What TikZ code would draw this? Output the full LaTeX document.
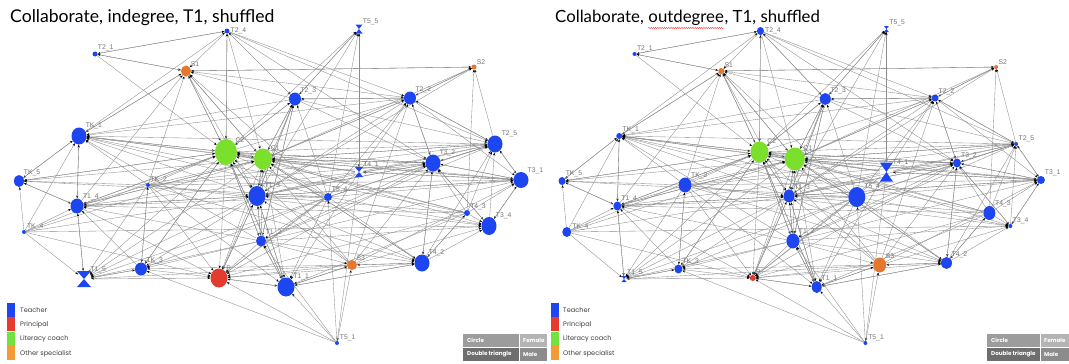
\documentclass[tikz,border=0pt]{standalone}
\usepackage{fontspec}
\setmainfont{Lato}
\newfontfamily\lblfont{Liberation Sans}
\newfontfamily\legfont{Poppins}
\usetikzlibrary{arrows.meta,shapes.geometric,decorations.pathmorphing}
\definecolor{tblue}{HTML}{1E46F0}
\definecolor{cgreen}{HTML}{7BE02C}
\definecolor{sorange}{HTML}{E5782C}
\definecolor{pred}{HTML}{E33B2F}
\definecolor{lorange}{HTML}{F39C33}
\definecolor{lgreen}{HTML}{72E23E}
\definecolor{lred}{HTML}{E8382F}
\definecolor{lblue}{HTML}{1F45F2}
\definecolor{rowa}{HTML}{9C9C9C}
\definecolor{rowab}{HTML}{B4B4B4}
\definecolor{rowb}{HTML}{6E6E6E}
\definecolor{rowbb}{HTML}{8C8C8C}
\pgfdeclarelayer{bg}
\pgfsetlayers{bg,main}
\tikzset{
  lnk/.style={draw=black!45, line width=0.35pt, -{Stealth[length=2.8pt,width=2.2pt,black]}},
  nd/.style={ellipse, inner sep=0pt, draw=none},
  lbl/.style={font=\lblfont\fontsize{6.8}{7}\selectfont, text=black!55, inner sep=0.8pt},
  ttl/.style={anchor=base west, inner sep=0},
  legtxt/.style={font=\legfont\fontsize{6.6}{7}\selectfont, text=black!75, anchor=west, inner sep=0},
  tbl/.style={font=\legfont\bfseries\fontsize{5.6}{6}\selectfont, text=white, anchor=west, inner sep=0},
}
\def\nodelist{%
T24/227/31/{T2\_4}/tblue/5/5/7/8/0,%
T21/95/54/{T2\_1}/tblue/5/5/4/4/45,%
S1/186/71/{S1}/sorange/10/11/6/6/45,%
T55/359/29/{T5\_5}/none/7/9/5/6/45,%
S2/474/67/{S2}/sorange/5/5/4/4/45,%
T23/295/99/{T2\_3}/tblue/12/13/11/12/45,%
T22/410/98/{T2\_2}/tblue/12/13/7/7/45,%
TK1/79/136/{TK\_1}/tblue/15/17/6/6/45,%
C2/226/152/{C2}/cgreen/22/26/18/21/45,%
C1/263/159/{C1}/cgreen/18/21/20/23/45,%
T25/495/144/{T2\_5}/tblue/15/17/4/4/45,%
T32/433/163/{T3\_2}/tblue/15/17/8/9/45,%
T41/359/172/{T4\_1}/none/8/10/13/19/45,%
T31/521/180/{T3\_1}/tblue/15/16/8/8/45,%
TK5/19/181/{TK\_5}/tblue/10/12/7/8/45,%
TK2/148/185/{TK\_2}/tblue/4/4/13/15/45,%
T13/257/196/{T1\_3}/tblue/17/20/11/13/45,%
T54/328/197/{T5\_4}/tblue/8/8/17/20/45,%
T43/467/213/{T4\_3}/tblue/6/6/12/14/45,%
T14/77/206/{T1\_4}/tblue/13/15/8/9/45,%
T34/489/226/{T3\_4}/tblue/15/18/4/4/45,%
TK4/24/232/{TK\_4}/tblue/4/4/9/10/20,%
T12/261/241/{T1\_2}/tblue/10/11/13/15/45,%
T42/422/263/{T4\_2}/tblue/15/17/11/12/45,%
S3/352/265/{S3}/sorange/10/10/13/15/45,%
TK3/141/269/{TK\_3}/tblue/12/13/8/9/45,%
T15/84/279/{T1\_5}/none/14/16/5/6/45,%
P/219/278/{P}/pred/17/19/6/6/45,%
T11/286/287/{T1\_1}/tblue/17/19/10/12/45,%
T51/337/343/{T5\_1}/tblue/4/4/4/4/30}
\def\edgelist{%
T24/{T21,S1,C2,T23,T22,T25,T32,C1},%
T21/{T24,S1,C2},%
S1/{T21,C2,TK1,C1,T13,T22,S2},%
T55/{T23,T41},%
S2/{T22,S1},%
T23/{C2,C1,T13,TK1,T22,T25,S1,T55,T24,P,T32,T12},%
T22/{S2,T23,T25,C1,T32,T31,T13,TK1},%
TK1/{S1,T24,C2,TK5,T14},%
C2/{C1,T13,P,T11,TK1,T23,T22,T32,T25,T31,T14,TK5,TK3,T15,S1,T55,T24,T12},%
C1/{C2,T13,T11,P,TK1,T23,T22,T25,T32,T31,T34,T42,T14,TK5,S1,S2,T15},%
T25/{T31,T22,S2,T32,C1,TK1},%
T32/{T25,T31,C1,C2,T13,T22,P,T42,T34},%
T41/{T32,C1,C2,T13,T55,P,T11,T31,T25,T22,T51,TK1,T14},%
T31/{T25,T32,C1,T13,T41,T34},%
TK5/{TK1,T14,C2},%
TK2/{TK1,TK5,T14,C2,C1,T13,P,T32,T25,T31,T34,T42,TK3,T11,S1,T15},%
T13/{C2,C1,P,T11,T12,TK1,T23,T32,T31,T42,T15,TK3,T55,S2,T25,T14},%
T54/{C2,C1,T13,TK1,T23,T22,T25,T32,T31,T34,P,T11,T42,T14,TK5,T15,S1,T55,TK3,T12},%
T43/{T34,T31,T25,C1,C2,T13,P,T42,T11,TK1,T32,S2,T14},%
T14/{TK1,TK5,C2,T15,P,T13,S1,C1},%
T34/{T31,T32,T25},%
TK4/{TK5,T14,T15,C2,C1,T34,TK1,T13,P},%
T12/{C2,C1,T13,T11,P,TK1,T23,T32,T34,T25,T14,T15,TK3,T42,S3,T31},%
T42/{P,S3,T11,T34,T43,C1,T32,T25},%
S3/{C2,C1,P,T11,T42,T34,T13,TK3,T15,T32,T22,T31},%
TK3/{P,T15,TK2,C2,T14},%
T15/{TK3,P,T14},%
P/{T11,T13},%
T11/{P,T13,C2,S3,T42,T12},%
T51/{S3,T11,P,T12,T54,TK3}}
\begin{document}
\begin{tikzpicture}[x=1pt,y=-1pt]
\useasboundingbox (0,0) rectangle (1069,364);
% nodes, left panel
\foreach \n/\x/\y/\lab/\c/\lw/\lh/\rw/\rh/\la in \nodelist {
  \node[nd, fill=\c, minimum width=\lw pt, minimum height=\lh pt, label={[lbl]\la:\lab}] (L\n) at (\x,\y) {};
}
% nodes, right panel
\begin{scope}[xshift=543.9pt, xscale=0.954]
\foreach \n/\x/\y/\lab/\c/\lw/\lh/\rw/\rh/\la in \nodelist {
  \node[nd, fill=\c, minimum width=\rw pt, minimum height=\rh pt, label={[lbl]\la:\lab}] (R\n) at (\x,\y) {};
}
\end{scope}
% double triangles
\foreach \n/\w/\h in {LT55/7/9, LT41/8/10, LT15/14/16, RT55/5/6, RT41/13/19, RT15/5/6} {
  \fill[tblue] (\n.center) ++(-\w/2,-\h/2) -- ++(\w,0) -- ++(-\w,\h) -- ++(\w,0) -- cycle;
}
% connectors
\begin{pgfonlayer}{bg}
\fill[white] (0,0) rectangle (1069,364);
\foreach \s/\ts in \edgelist {
  \foreach \t in \ts {
    \draw[lnk] (L\s) -- (L\t);
    \draw[lnk] (R\s) -- (R\t);
  }
}
\end{pgfonlayer}
% titles
\node[ttl, font=\fontsize{17.6}{20}\selectfont] (t1) at (10,23) {Collaborate, indegree, T1, shuffled};
\node[ttl, font=\fontsize{16.8}{20}\selectfont] (t2a) at (555,23) {Collaborate,};
\node[ttl, font=\fontsize{16.8}{20}\selectfont] (t2b) at ([xshift=4.2pt]t2a.base east) {outdegree};
\node[ttl, font=\fontsize{16.8}{20}\selectfont] (t2c) at ([xshift=0.3pt]t2b.base east) {, T1, shuffled};
\draw[red!80, line width=0.4pt, decorate, decoration={snake, amplitude=0.6pt, segment length=2.2pt}]
  ([yshift=-5pt]t2b.base west) -- ([yshift=-5pt]t2b.base east);
% role legends
\foreach \i/\col/\txt in {0/lblue/Teacher,1/lred/Principal,2/lgreen/Literacy coach,3/lorange/Other specialist} {
  \fill[\col] (7,{303+14.4*\i}) rectangle (15,{317+14.4*\i});
  \node[legtxt] (legL\i) at (20,{310.5+14.4*\i}) {\txt};
  \fill[\col] (551,{303+14.4*\i}) rectangle (559,{317+14.4*\i});
  \node[legtxt] (legR\i) at (563,{310.5+14.4*\i}) {\txt};
}
% shape legends
\foreach \xa/\xb/\xc/\xd/\nm in {463/519/520/547/L, 987/1040/1041/1069/R} {
  \fill[rowa] (\xa,334) rectangle (\xb,347);
  \fill[rowab] (\xc,334) rectangle (\xd,347);
  \fill[rowb] (\xa,348) rectangle (\xb,361);
  \fill[rowbb] (\xc,348) rectangle (\xd,361);
  \node[tbl] (c\nm) at (\xa+4,340.5) {Circle};
  \node[tbl] (f\nm) at (\xc+3,340.5) {Female};
  \node[tbl] (d\nm) at (\xa+4,354.5) {Double triangle};
  \node[tbl] (m\nm) at (\xc+3,354.5) {Male};
}
\end{tikzpicture}
\end{document}
